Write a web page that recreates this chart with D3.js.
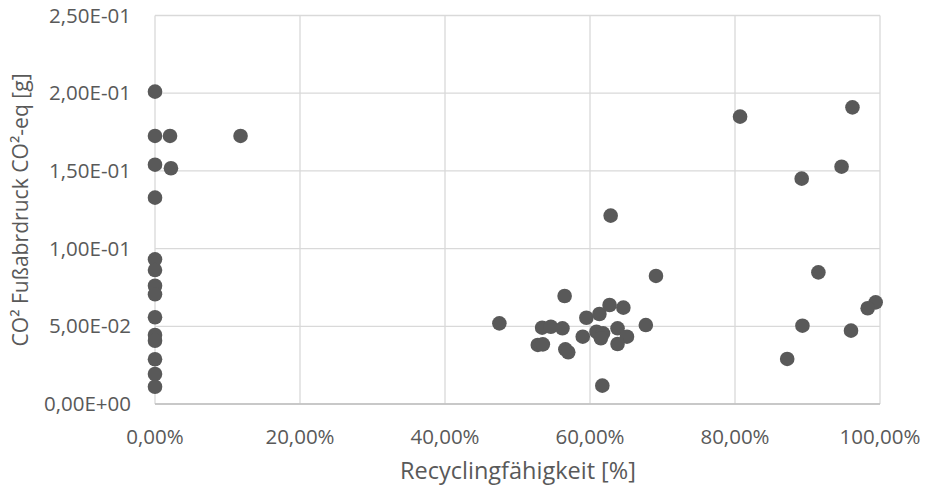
<!DOCTYPE html>
<html><head><meta charset="utf-8">
<script src="https://cdn.jsdelivr.net/npm/d3@7"></script>
<style>body{margin:0;background:#fff}svg{display:block}text{font-family:"Open Sans",sans-serif;fill:#595959}</style>
</head><body><svg id="c" width="927" height="487"></svg>
<script>
const recycling = [0,0,2.07,11.8,0,2.2,0,0,0,0,0,0,0,0,0,0,0,
  62.85,69.1,56.5,47.5,53.4,54.6,56.2,52.8,53.5,56.6,57.0,59.0,59.5,61.3,62.7,64.6,67.7,60.9,61.8,61.5,63.8,65.1,63.8,61.7,
  80.7,96.2,94.7,89.2,91.5,99.4,98.3,89.3,96.0,87.2];
const co2 = [0.201,0.1725,0.1725,0.1725,0.154,0.1517,0.1328,0.0931,0.0862,0.0761,0.0706,0.0558,0.0444,0.0407,0.0288,0.0193,0.0111,
  0.1212,0.0824,0.0695,0.0519,0.0491,0.0497,0.0487,0.0380,0.0384,0.0352,0.0333,0.0433,0.0555,0.0579,0.0637,0.0620,0.0508,0.0465,0.0455,0.0423,0.0487,0.0433,0.0386,0.0118,
  0.1849,0.1909,0.1527,0.1450,0.0847,0.0654,0.0616,0.0504,0.0472,0.0290];
const xTicks = [0,20,40,60,80,100];
const xTickLabels = ["0,00%","20,00%","40,00%","60,00%","80,00%","100,00%"];
const yTicks = [0,0.05,0.1,0.15,0.2,0.25];
const yTickLabels = ["0,00E+00","5,00E-02","1,00E-01","1,50E-01","2,00E-01","2,50E-01"];
const xTitle = "Recyclingfähigkeit [%]";
const yTitle = "CO² Fußabrdruck CO²-eq [g]";

const svg = d3.select("#c");
const x = d3.scaleLinear().domain([0,100]).range([155,880]);
const y = d3.scaleLinear().domain([0,0.25]).range([404,15.5]);
const grid = svg.append("g");
grid.selectAll("line.h").data(yTicks).join("line")
  .attr("x1",155).attr("x2",880).attr("y1",d=>y(d)).attr("y2",d=>y(d))
  .attr("stroke","#d9d9d9").attr("stroke-width",1.3);
grid.selectAll("line.v").data(xTicks).join("line")
  .attr("y1",15.5).attr("y2",404).attr("x1",d=>x(d)).attr("x2",d=>x(d))
  .attr("stroke","#d9d9d9").attr("stroke-width",1.3);
svg.append("line").attr("x1",155).attr("x2",880).attr("y1",404).attr("y2",404).attr("stroke","#bfbfbf").attr("stroke-width",1.3);

svg.append("g").selectAll("text").data(yTicks).join("text")
  .attr("x",131).attr("y",d=>y(d)).attr("dy","0.35em").attr("text-anchor","end")
  .attr("font-size",20.5).text((d,i)=>yTickLabels[i]);
svg.append("g").selectAll("text").data(xTicks).join("text")
  .attr("x",d=>x(d)).attr("y",437).attr("dy","0.35em").attr("text-anchor","middle")
  .attr("font-size",20.5).text((d,i)=>xTickLabels[i]);
svg.append("text").attr("x",518).attr("y",471).attr("dy","0.35em").attr("text-anchor","middle")
  .attr("font-size",23.5).text(xTitle);
svg.append("text").attr("transform","translate(21,210) rotate(-90)").attr("dy","0.35em").attr("text-anchor","middle")
  .attr("font-size",21.1).text(yTitle);

svg.append("g").selectAll("circle").data(recycling).join("circle")
  .attr("cx",d=>x(d)).attr("cy",(d,i)=>y(co2[i])).attr("r",7.3).attr("fill","#595959");
</script></body></html>
